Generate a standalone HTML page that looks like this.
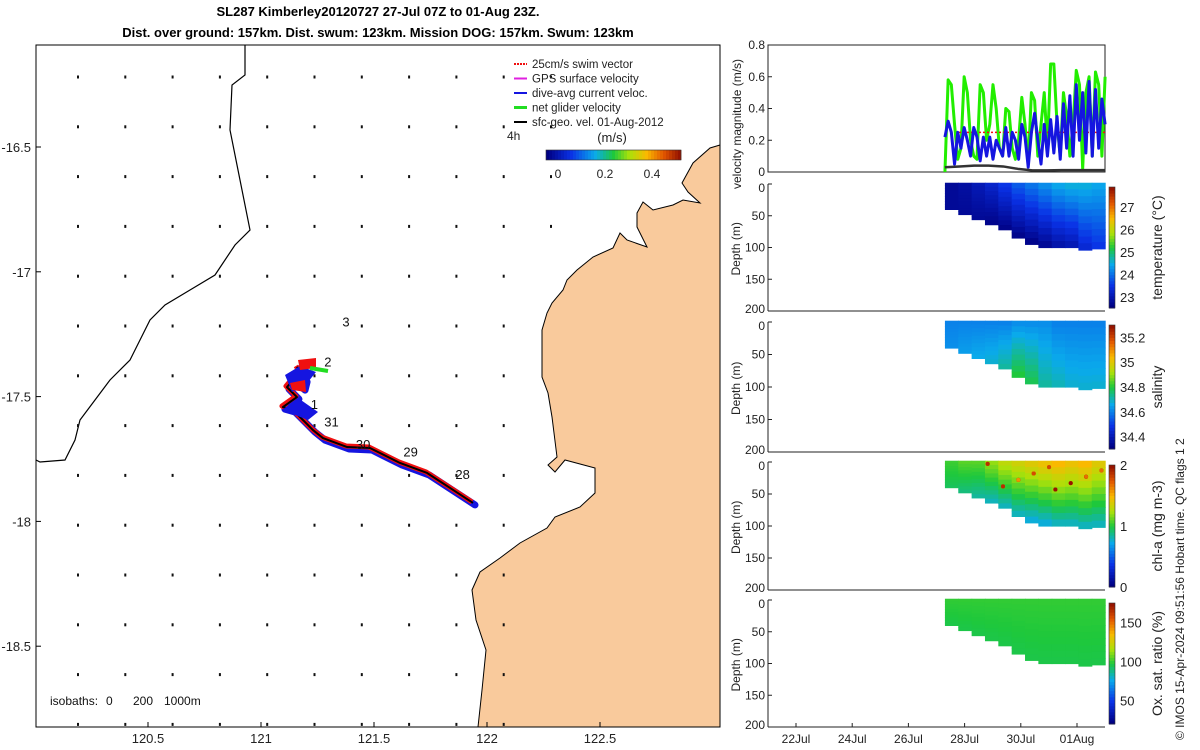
<!DOCTYPE html>
<html><head><meta charset="utf-8"><style>
html,body{margin:0;padding:0;background:#fff}
svg{display:block;font-family:"Liberation Sans","DejaVu Sans",sans-serif}
</style></head><body>
<svg id="fig" width="1200" height="750" viewBox="0 0 1200 750" xmlns="http://www.w3.org/2000/svg">
<text x="378" y="16" text-anchor="middle" font-size="13" font-weight="bold">SL287 Kimberley20120727 27-Jul 07Z to 01-Aug 23Z.</text>
<text x="378" y="37" text-anchor="middle" font-size="13" font-weight="bold">Dist. over ground: 157km. Dist. swum: 123km. Mission DOG: 157km. Swum: 123km</text>
<g id="map"></g>
<g id="right"></g>
<text transform="translate(1184,740) rotate(-90)" font-size="12" fill="#222">© IMOS 15-Apr-2024 09:51:56 Hobart time. QC flags 1  2</text>
</svg>
<script>
// ---------- data ----------
const lonTicks=[120.5,121,121.5,122,122.5];
const latTicks=[-16.5,-17,-17.5,-18,-18.5];
const trackLon=[121.938,121.850,121.735,121.615,121.482,121.381,121.274,121.230,121.186,121.142,121.097,121.159,121.115,121.142,121.186,121.195,121.159];
const trackLat=[-17.926,-17.874,-17.806,-17.766,-17.706,-17.702,-17.666,-17.634,-17.594,-17.554,-17.542,-17.502,-17.462,-17.433,-17.466,-17.433,-17.381];
const dayLabels=["28","29","30","31","1","2","3"];
const dayLon=[121.86,121.63,121.42,121.28,121.22,121.28,121.36];
const dayLat=[-17.83,-17.74,-17.71,-17.62,-17.55,-17.38,-17.22];
const velTicks=[0,0.2,0.4,0.6,0.8];
const dateTicks=["22Jul","24Jul","26Jul","28Jul","30Jul","01Aug"];
const dateDays=[22,24,26,28,30,32];
const netVel=[0.0,0.58,0.55,0.3,0.08,0.15,0.6,0.5,0.2,0.1,0.08,0.55,0.5,0.2,0.3,0.55,0.4,0.15,0.1,0.4,0.38,0.15,0.08,0.2,0.47,0.3,0.05,0.5,0.45,0.1,0.3,0.5,0.15,0.68,0.68,0.3,0.1,0.5,0.35,0.1,0.3,0.64,0.55,0.02,0.5,0.6,0.1,0.63,0.55,0.1,0.6];
const curVel=[0.22,0.32,0.25,0.05,0.25,0.15,0.28,0.2,0.1,0.28,0.22,0.07,0.22,0.1,0.22,0.08,0.2,0.15,0.1,0.28,0.1,0.25,0.2,0.08,0.3,0.22,0.03,0.25,0.37,0.2,0.05,0.3,0.1,0.33,0.12,0.35,0.08,0.43,0.15,0.48,0.1,0.55,0.2,0.5,0.12,0.57,0.1,0.52,0.15,0.46,0.3];
const geoVel=[0.03,0.035,0.04,0.04,0.035,0.02,0.01,0.01,0.012,0.012,0.012,0.012];
const swimVel=0.25;
const bottomDepth=[40,48,56,64,72,85,95,100,100,100,104,102];
const tempSurf=[22.7,22.8,23.0,23.2,23.5,23.8,24.0,24.2,24.4,24.5,24.5,24.4];
const tempBot=[22.7,22.7,22.7,22.6,22.6,22.6,22.6,22.7,22.9,23.0,23.3,23.5];
const salSurf=[34.6,34.6,34.6,34.6,34.6,34.62,34.62,34.62,34.6,34.6,34.6,34.6];
const salBot=[34.62,34.64,34.66,34.68,34.72,34.8,34.78,34.72,34.7,34.68,34.68,34.68];
const chlSurf=[1.05,1.1,1.1,1.2,1.3,1.35,1.4,1.45,1.5,1.45,1.5,1.4];
const chlBot=[0.95,0.9,0.85,0.8,0.8,0.8,0.75,0.75,0.8,0.8,0.8,0.8];
const oxSurf=[100,100,100,100,100,100,100,100,100,100,100,100];
const oxBot=[96,96,96,96,96,96,96,96,96,96,96,96];

// ---------- helpers ----------
const NS="http://www.w3.org/2000/svg";
function mk(parent,tag,attrs,txt){const e=document.createElementNS(NS,tag);for(const k in attrs)e.setAttribute(k,attrs[k]);if(txt!==undefined)e.textContent=txt;parent.appendChild(e);return e;}
const cmStops=[[0,0,0,130],[0.18,10,50,230],[0.36,10,170,235],[0.5,30,200,60],[0.62,170,225,10],[0.75,250,185,0],[0.88,225,85,0],[1,150,20,0]];
function jet(t){t=Math.max(0,Math.min(1,t));for(let i=1;i<cmStops.length;i++){if(t<=cmStops[i][0]){const a=cmStops[i-1],b=cmStops[i],f=(t-a[0])/(b[0]-a[0]);return `rgb(${Math.round(a[1]+(b[1]-a[1])*f)},${Math.round(a[2]+(b[2]-a[2])*f)},${Math.round(a[3]+(b[3]-a[3])*f)})`;}}return "rgb(150,20,0)";}
const lonX=l=>35+(l-120)*226;
const latY=l=>147-(l+16.5)*249.6;

// ---------- map ----------
const map=document.getElementById('map');
const mx0=36,mx1=720,my0=45,my1=727;
const land=mk(map,'polygon',{points:"720,145 710,148 693,163 682,183 688,192 700,203 683,200 673,205 653,210 643,202 637,213 637,227 647,247 627,240 620,233 613,248 593,257 577,270 567,280 563,290 552,303 547,313 542,330 542,357 542,377 548,393 552,417 557,457 548,465 555,472 565,460 595,468 595,493 580,507 555,517 547,528 520,543 500,558 480,572 472,590 476,620 486,650 482,690 478,727 720,727",fill:"#f9ca9c",stroke:"#000","stroke-width":1});


const iso=mk(map,'polyline',{points:"245,45 245,75 232,85 230,130 240,180 250,230 235,245 215,275 190,290 165,305 150,320 140,340 130,360 110,380 95,400 80,420 75,440 65,460 40,462 36,460",fill:"none",stroke:"#000","stroke-width":1.2});


for(let i=0;i<14;i++){for(let j=0;j<11;j++){const x=78+j*47.3,y=77+i*49.8;if(x>520&&y>240)continue;if(x>560)continue;const d=mk(map,'rect',{x:x-1,y:y-1.5,width:2,height:3,fill:"#111"});}}
mk(map,'rect',{x:mx0,y:my0,width:mx1-mx0,height:my1-my0,fill:"none",stroke:"#000","stroke-width":1});
lonTicks.forEach(l=>{const x=lonX(l);mk(map,'line',{x1:x,x2:x,y1:my1,y2:my1-5,stroke:"#000"});const t=mk(map,'text',{x:x,y:743,"text-anchor":"middle","font-size":13,fill:"#222"},String(l));});
latTicks.forEach(l=>{const y=latY(l);mk(map,'line',{x1:mx0,x2:mx0+5,y1:y,y2:y,stroke:"#000"});const t=mk(map,'text',{x:31,y:y+5,"text-anchor":"end","font-size":13,fill:"#222"},String(l));});
const pts=trackLon.map((l,i)=>lonX(l)+","+latY(trackLat[i])).join(" ");
const tb=mk(map,'polyline',{points:pts,fill:"none",stroke:"#1515e0","stroke-width":7,"stroke-linejoin":"round","stroke-linecap":"round",transform:"translate(2,2)"});


const tr=mk(map,'polyline',{points:pts,fill:"none",stroke:"#f01010","stroke-width":5,"stroke-linejoin":"round",transform:"translate(-1,-1)"});


const tk=mk(map,'polyline',{points:pts,fill:"none",stroke:"#000","stroke-width":2,"stroke-linejoin":"round"});


mk(map,'polygon',{points:"285,375 300,366 316,372 308,382 292,392",fill:"#1515e0"});
mk(map,'polygon',{points:"282,410 298,398 318,412 308,420",fill:"#1515e0"});
mk(map,'polygon',{points:"298,360 316,358 316,368 300,370",fill:"#f01010"});
mk(map,'polygon',{points:"290,383 305,380 306,392 292,390",fill:"#f01010"});
mk(map,'line',{x1:310,y1:368,x2:328,y2:371,stroke:"#22dd22","stroke-width":4});
dayLabels.forEach((d,i)=>{const t=mk(map,'text',{x:lonX(dayLon[i]),y:latY(dayLat[i]),"font-size":13,fill:"#111"},d);});
const legItems=[["25cm/s swim vector","#f01010",true],["GPS surface velocity","#e020e0",false],["dive-avg current veloc.","#1515e0",false],["net glider velocity","#22dd22",false],["sfc-geo. vel. 01-Aug-2012","#000",false]];
const leg=mk(map,'g',{});


legItems.forEach((it,i)=>{const y=64+i*14.5;mk(leg,'line',{x1:514,x2:527,y1:y,y2:y,stroke:it[1],"stroke-width":it[0].startsWith("net")?3:2,"stroke-dasharray":it[2]?"2,1":"none"});const t=mk(leg,'text',{x:532,y:y+4,"font-size":11.5,fill:"#222"},it[0]);});
mk(map,'text',{x:507,y:140,"font-size":12,fill:"#222"},"4h");
mk(map,'text',{x:612,y:142,"text-anchor":"middle","font-size":13,fill:"#222"},"(m/s)");
for(let i=0;i<45;i++){mk(map,'rect',{x:546+i*3,y:150,width:3.3,height:10,fill:jet(i/44)});}
mk(map,'rect',{x:546,y:150,width:135,height:10,fill:"none",stroke:"#333","stroke-width":0.6});
[["0",558],["0.2",605],["0.4",652]].forEach(a=>mk(map,'text',{x:a[1],y:178,"text-anchor":"middle","font-size":12,fill:"#222"},a[0]));
const isot=mk(map,'g',{});


[["isobaths:",50],["0",106],["200",133],["1000m",164]].forEach(a=>mk(isot,'text',{x:a[1],y:705,"font-size":12,fill:"#111"},a[0]));

// ---------- right panels ----------
const R=document.getElementById('right');
const ax0=768,ax1=1105;
const dayX=d=>796+(d-22)*28.1;
const dStart=27.3,dEnd=33.0;
const vy0=45,vy1=172;
const velY=v=>vy1-v/0.8*(vy1-vy0);
mk(R,'rect',{x:ax0,y:vy0,width:ax1-ax0,height:vy1-vy0,fill:"#fff",stroke:"#222"});
velTicks.forEach(v=>{const y=velY(v);mk(R,'line',{x1:ax0,x2:ax0+4,y1:y,y2:y,stroke:"#222"});mk(R,'text',{x:ax0-3,y:y+4,"text-anchor":"end","font-size":12,fill:"#222"},String(v));});
mk(R,'text',{transform:"translate(741,189) rotate(-90)","font-size":12,fill:"#222"},"velocity magnitude (m/s)");
function series(arr,color,w,name){const n=arr.length;const p=arr.map((v,i)=>dayX(dStart+(dEnd-dStart)*i/(n-1))+","+velY(v)).join(" ");const l=mk(R,'polyline',{points:p,fill:"none",stroke:color,"stroke-width":w,"stroke-linejoin":"round"});}
series(netVel,"#22ee00",3,"net-glider-velocity-line");
const sw=mk(R,'line',{x1:dayX(27.8),x2:dayX(dEnd),y1:velY(swimVel),y2:velY(swimVel),stroke:"#f01010","stroke-width":1.5,"stroke-dasharray":"2,2"});


series(curVel,"#1515e0",3,"dive-avg-current-line");
series(geoVel,"#333",2.5,"sfc-geo-velocity-line");

const panels=[
 {y0:184,y1:311,surf:tempSurf,bot:tempBot,vmin:22.5,vmax:27.9,ticks:[23,24,25,26,27],label:"temperature (°C)",name:"temperature"},
 {y0:322,y1:452,surf:salSurf,bot:salBot,vmin:34.3,vmax:35.3,ticks:[34.4,34.6,34.8,35,35.2],label:"salinity",name:"salinity"},
 {y0:462,y1:590,surf:chlSurf,bot:chlBot,vmin:0,vmax:2,ticks:[0,1,2],label:"chl-a (mg m-3)",name:"chlorophyll"},
 {y0:600,y1:727,surf:oxSurf,bot:oxBot,vmin:20,vmax:175,ticks:[50,100,150],label:"Ox. sat. ratio (%)",name:"oxygen"}];
const depthTicks=[0,50,100,150,200];
const nRows=10;
panels.forEach((P,pi)=>{
 const g=mk(R,'g',{});
 
 
 const dY=d=>P.y0+d/200*(P.y1-P.y0);
 mk(g,'rect',{x:ax0,y:P.y0,width:ax1-ax0,height:P.y1-P.y0,fill:"#fff"});
 const nc=P.surf.length,cw=(dayX(dEnd)-dayX(dStart))/nc;
 for(let c=0;c<nc;c++){for(let r=0;r<nRows;r++){const f=r/(nRows-1);const v=P.surf[c]+(P.bot[c]-P.surf[c])*f;const top=-2+(bottomDepth[c]+2)*r/nRows,bt=-2+(bottomDepth[c]+2)*(r+1)/nRows;
  const cell=mk(g,'rect',{x:dayX(dStart)+c*cw,y:dY(top),width:cw+0.6,height:dY(bt)-dY(top)+0.6,fill:jet((v-P.vmin)/(P.vmax-P.vmin))});
  
  }}
 if(pi===2){for(let k=0;k<40;k++){const c=3+(k*7)%(nc-3),dd=((k*13)%9)*5+3;const v=1.6+((k*3)%5)*0.1;mk(g,'circle',{cx:dayX(dStart)+(c+0.5)*cw+((k*5)%9)-4,cy:dY(dd),r:2,fill:jet((v-P.vmin)/(P.vmax-P.vmin))});}}
 mk(g,'line',{x1:ax0,x2:ax0,y1:P.y0,y2:P.y1,stroke:"#222"});
 mk(g,'line',{x1:ax0,x2:ax1,y1:P.y1,y2:P.y1,stroke:"#222"});
 depthTicks.forEach(d=>{const y=dY(d);mk(g,'line',{x1:ax0,x2:ax0+4,y1:y,y2:y,stroke:"#222"});mk(g,'text',{x:ax0-3,y:y+(d===0?8:d===200?2:4),"text-anchor":"end","font-size":12,fill:"#222"},String(d));});
 mk(g,'text',{transform:`translate(740,${(P.y0+P.y1)/2+28}) rotate(-90)`,"font-size":12,fill:"#222"},"Depth (m)");
 const cb0=P.y0+3,cb1=P.y1-3;
 for(let i=0;i<40;i++){mk(g,'rect',{x:1109,y:cb1-(i+1)*(cb1-cb0)/40,width:6,height:(cb1-cb0)/40+0.5,fill:jet(i/39)});}
 mk(g,'rect',{x:1109,y:cb0,width:6,height:cb1-cb0,fill:"none",stroke:"#333","stroke-width":0.6});
 P.ticks.forEach(t=>{const y=cb1-(t-P.vmin)/(P.vmax-P.vmin)*(cb1-cb0);mk(g,'text',{x:1120,y:y+5,"font-size":13,fill:"#222"},String(t));});
 const lb=mk(g,'text',{transform:`translate(1162,${(P.y0+P.y1)/2}) rotate(-90)`,"text-anchor":"middle","font-size":14,fill:"#222"},P.label);
 
 
});
dateTicks.forEach((t,i)=>{const x=dayX(dateDays[i]);mk(R,'line',{x1:x,x2:x,y1:727,y2:723,stroke:"#222"});const l=mk(R,'text',{x:x,y:743,"text-anchor":"middle","font-size":12,fill:"#222"},t);});
</script>
</body></html>
